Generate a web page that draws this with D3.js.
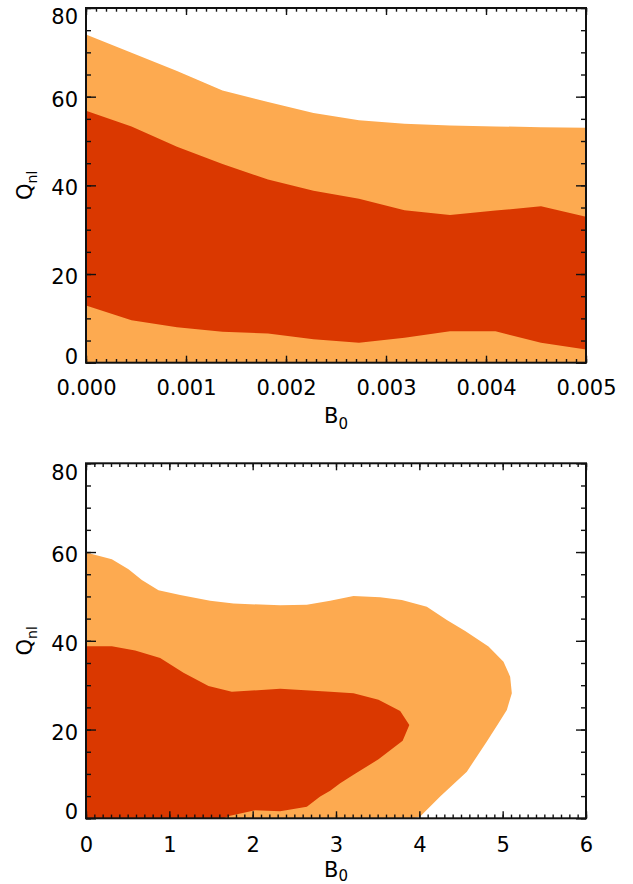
<!DOCTYPE html>
<html>
<head>
<meta charset="utf-8">
<script src="https://cdn.jsdelivr.net/npm/d3@7"></script>
<style>
  body { margin: 0; background: #fff; }
  svg { display: block; }
</style>
</head>
<body>
<script>
// top panel: contour bands sampled on a B0 grid
const topB0 = [0, 0.000455, 0.00091, 0.001365, 0.00182, 0.002275,
               0.00273, 0.003185, 0.00364, 0.004095, 0.00455, 0.005];
const top95Upper = [74.0, 69.9, 65.8, 61.4, 58.8, 56.3, 54.7, 53.9, 53.5, 53.3, 53.1, 53.0];
const top68Upper = [56.8, 53.3, 48.7, 44.8, 41.3, 38.8, 37.0, 34.4, 33.3, 34.3, 35.3, 32.9];
const top68Lower = [12.9, 9.6, 8.0, 7.0, 6.6, 5.3, 4.5, 5.6, 7.1, 7.1, 4.5, 3.0];

// bottom panel: closed contours (B0, Qnl)
const outerB0 = [0, 0.31, 0.51, 0.67, 0.87, 1.13, 1.49, 1.77, 2.33, 2.65, 2.93, 3.21, 3.53, 3.79,
                 4.09, 4.33, 4.55, 4.83, 5.01, 5.09, 5.11, 5.05, 4.95, 4.81, 4.57, 4.25, 4.01, 3.93, 0];
const outerQ  = [59.9, 58.4, 56.1, 53.7, 51.4, 50.3, 49.0, 48.4, 48.0, 48.1, 49.0, 50.1, 49.8, 49.2,
                 47.7, 44.7, 42.2, 38.7, 35.3, 31.9, 28.2, 24.4, 21.4, 17.3, 10.5, 4.9, 0.4, 0, 0];
const innerB0 = [0, 0.31, 0.59, 0.89, 1.17, 1.47, 1.75, 2.33, 2.93, 3.21, 3.51, 3.77, 3.88, 3.80,
                 3.51, 3.21, 3.05, 2.93, 2.81, 2.65, 2.33, 2.03, 1.73, 1.65, 0];
const innerQ  = [38.8, 38.8, 37.8, 36.1, 32.8, 29.8, 28.5, 29.2, 28.5, 28.2, 26.7, 24.2, 21.0, 17.5,
                 13.3, 9.8, 7.9, 6.2, 4.9, 2.6, 1.6, 1.8, 0.6, 0, 0];

// ticks
const yMajor = [0, 20, 40, 60, 80];
const topXMajor = [0, 0.001, 0.002, 0.003, 0.004, 0.005];
const botXMajor = [0, 1, 2, 3, 4, 5, 6];

const light = "#fdaa50", dark = "#da3800";
const font = "DejaVu Sans";

const svg = d3.select("body").append("svg")
    .attr("width", 633)
    .attr("height", 884);

const left = 86, right = 586;

function panel(id, x, y, xMajor, xMinorStep, fmt, labelY, titleY, subShift) {
    const g = svg.append("g");
    const [y0, y1] = y.range();

    g.append("clipPath").attr("id", id)
        .append("rect")
        .attr("x", left).attr("y", y1)
        .attr("width", right - left).attr("height", y0 - y1);

    const plot = g.append("g").attr("clip-path", `url(#${id})`);

    const xMinor = d3.range(0, Math.round(x.domain()[1] / xMinorStep) + 1).map(i => i * xMinorStep);
    const yMinor = d3.range(0, 81, 5);

    const tickStyle = sel => {
        sel.select(".domain").remove();
        sel.selectAll("line").attr("stroke", "#111").attr("stroke-width", 1.4);
    };

    // axes after the marks
    return {
        plot,
        axes() {
            // minor ticks
            g.append("g").attr("transform", `translate(0,${y0})`)
                .call(d3.axisBottom(x).tickValues(xMinor).tickSize(-3.7).tickFormat(""))
                .call(tickStyle);
            g.append("g").attr("transform", `translate(0,${y1})`)
                .call(d3.axisTop(x).tickValues(xMinor).tickSize(-3.7).tickFormat(""))
                .call(tickStyle);
            g.append("g").attr("transform", `translate(${left},0)`)
                .call(d3.axisLeft(y).tickValues(yMinor).tickSize(-5).tickFormat(""))
                .call(tickStyle);
            g.append("g").attr("transform", `translate(${right},0)`)
                .call(d3.axisRight(y).tickValues(yMinor).tickSize(-5).tickFormat(""))
                .call(tickStyle);

            // major ticks with labels
            const xb = g.append("g").attr("transform", `translate(0,${y0})`)
                .call(d3.axisBottom(x).tickValues(xMajor).tickSize(-7).tickFormat(fmt))
                .call(tickStyle);
            xb.selectAll("text")
                .attr("y", labelY).attr("dy", 0)
                .attr("font-family", font).attr("font-size", 21).attr("fill", "#000");

            g.append("g").attr("transform", `translate(0,${y1})`)
                .call(d3.axisTop(x).tickValues(xMajor).tickSize(-7).tickFormat(""))
                .call(tickStyle);

            const yl = g.append("g").attr("transform", `translate(${left},0)`)
                .call(d3.axisLeft(y).tickValues(yMajor).tickSize(-10).tickPadding(8))
                .call(tickStyle);
            yl.selectAll("text")
                .attr("dy", 0)
                .attr("y", d => d === 0 ? 0.3 : d === 80 ? 15.8 : 9.6)
                .attr("font-family", font).attr("font-size", 21).attr("fill", "#000");

            g.append("g").attr("transform", `translate(${right},0)`)
                .call(d3.axisRight(y).tickValues(yMajor).tickSize(-10).tickFormat(""))
                .call(tickStyle);

            // frame
            g.append("rect")
                .attr("x", left).attr("y", y1)
                .attr("width", right - left).attr("height", y0 - y1)
                .attr("fill", "none").attr("stroke", "#111").attr("stroke-width", 2);

            // x title
            const xt = g.append("text")
                .attr("x", 336).attr("y", titleY)
                .attr("text-anchor", "middle")
                .attr("font-family", font).attr("font-size", 21).attr("fill", "#000");
            xt.append("tspan").text("B");
            xt.append("tspan").attr("font-size", 15).attr("dy", subShift).text("0");

            // y title
            const cy = (y0 + y1) / 2;
            const yt = g.append("text")
                .attr("transform", `translate(32,${cy}) rotate(-90)`)
                .attr("text-anchor", "middle")
                .attr("font-family", font).attr("font-size", 21).attr("fill", "#000");
            yt.append("tspan").text("Q");
            yt.append("tspan").attr("font-size", 14).attr("dy", 5).text("nl");
        }
    };
}

// ---- top panel
const xTop = d3.scaleLinear().domain([0, 0.005]).range([left, right]);
const yTop = d3.scaleLinear().domain([0, 80]).range([362.7, 8]);
const p1 = panel("clipTop", xTop, yTop, topXMajor, 0.0001, d3.format(".3f"), 32.3, 423, 6);

const topIdx = d3.range(topB0.length);
p1.plot.append("path")
    .datum(topIdx)
    .attr("fill", light)
    .attr("d", d3.area().x(i => xTop(topB0[i])).y0(yTop(0)).y1(i => yTop(top95Upper[i])));
p1.plot.append("path")
    .datum(topIdx)
    .attr("fill", dark)
    .attr("d", d3.area().x(i => xTop(topB0[i])).y0(i => yTop(top68Lower[i])).y1(i => yTop(top68Upper[i])));
p1.axes();

// ---- bottom panel
const xBot = d3.scaleLinear().domain([0, 6]).range([left, right]);
const yBot = d3.scaleLinear().domain([0, 80]).range([818.3, 463.3]);
const p2 = panel("clipBot", xBot, yBot, botXMajor, 0.1, d3.format("d"), 33.7, 877, 4);

const contour = d3.line().curve(d3.curveLinearClosed);
p2.plot.append("path")
    .attr("fill", light)
    .attr("d", contour(outerB0.map((b, i) => [xBot(b), yBot(outerQ[i])])));
p2.plot.append("path")
    .attr("fill", dark)
    .attr("d", contour(innerB0.map((b, i) => [xBot(b), yBot(innerQ[i])])));
p2.axes();
</script>
</body>
</html>
